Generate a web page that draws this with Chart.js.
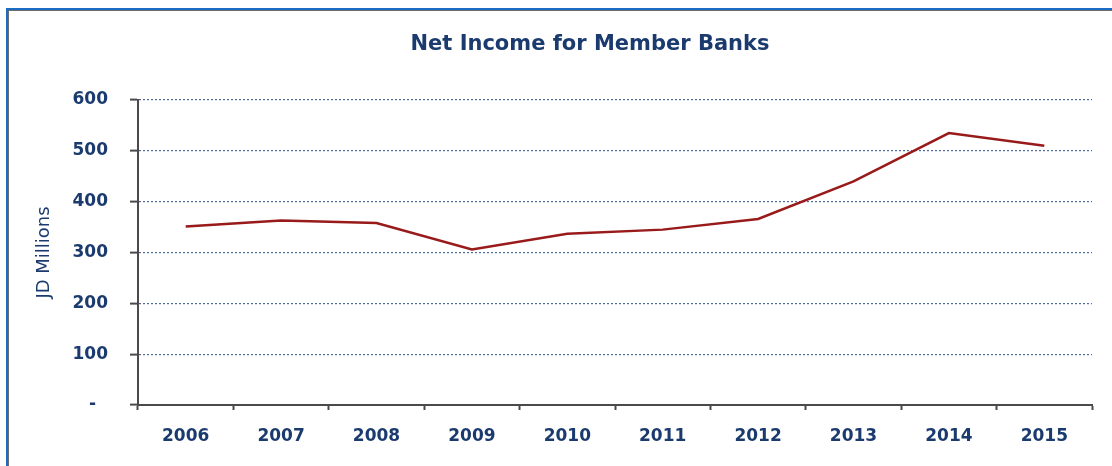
<!DOCTYPE html>
<html>
<head>
<meta charset="utf-8">
<script src="https://cdn.jsdelivr.net/npm/chart.js@4.4.1/dist/chart.umd.min.js"></script>
<style>
  html, body { margin: 0; padding: 0; background: #fff; }
  #wrap { position: relative; width: 1112px; height: 466px; overflow: hidden; }
  #frame {
    position: absolute; left: 6px; top: 8px; right: -10px; bottom: -10px;
    border-left: 2px solid #1c6cc4; border-top: 2px solid #1c6cc4;
    pointer-events: none;
  }
  #frame-inner {
    position: absolute; left: 0; top: 0; right: 0; bottom: 0;
    border-left: 1px solid #6b6b6b; border-top: 1px solid #6b6b6b;
  }
  #title {
    position: absolute; left: 340px; width: 500px; top: 31px;
    text-align: center; font: bold 21px "DejaVu Sans", sans-serif; color: #1b3b6f;
  }
  canvas { position: absolute; left: 0; top: 0; }
</style>
</head>
<body>
<div id="wrap">
  <canvas id="chart" width="1112" height="466"></canvas>
  <div id="frame"><div id="frame-inner"></div></div>
  <div id="title">Net Income for Member Banks</div>
</div>
<script>
// Net income, JD millions
const years = ['2006', '2007', '2008', '2009', '2010', '2011', '2012', '2013', '2014', '2015'];
const netIncome = [351, 363, 358, 306, 337, 345, 366, 440, 535, 510];
const yTicks = [0, 100, 200, 300, 400, 500, 600];

const NAVY = '#1b3b6f';
const AXIS = '#4a4a4a';

new Chart(document.getElementById('chart'), {
  type: 'line',
  data: {
    labels: years,
    datasets: [{
      label: 'Net Income',
      data: netIncome,
      borderColor: '#991a1a',
      borderWidth: 2.5,
      pointRadius: 0,
      tension: 0,
      fill: false
    }]
  },
  options: {
    responsive: false,
    animation: false,
    layout: { padding: { left: 0, top: 100, right: 20, bottom: 0 } },
    plugins: {
      legend: { display: false },
      tooltip: { enabled: false }
    },
    scales: {
      x: {
        offset: true,
        grid: {
          offset: true,
          drawOnChartArea: false,
          tickLength: 5,
          tickColor: AXIS,
          tickWidth: 2
        },
        border: { color: AXIS, width: 2 },
        ticks: {
          color: NAVY,
          padding: 16,
          font: { family: 'DejaVu Sans', size: 17, weight: 'bold' },
          maxRotation: 0
        },
        afterFit: (s) => { s.height = 61; }
      },
      y: {
        min: 0,
        max: 600,
        afterBuildTicks: (s) => { s.ticks = yTicks.map(v => ({ value: v })); },
        grid: {
          color: (ctx) => ctx.tick && ctx.tick.value === 0 ? 'rgba(0,0,0,0)' : '#4d6a9c',
          lineWidth: 1.2,
          tickLength: 8,
          tickColor: AXIS,
          tickWidth: 2
        },
        border: { color: AXIS, width: 2, dash: [2, 2] },
        ticks: {
          color: NAVY,
          padding: 22,
          font: { family: 'DejaVu Sans', size: 17, weight: 'bold' },
          callback: (v) => v === 0 ? '-  ' : v
        },
        title: {
          display: true,
          text: 'JD Millions',
          color: NAVY,
          padding: { top: 34, bottom: 0 },
          font: { family: 'DejaVu Sans', size: 18 }
        },
        afterFit: (s) => { s.width = 138; }
      }
    }
  }
});
</script>
</body>
</html>
